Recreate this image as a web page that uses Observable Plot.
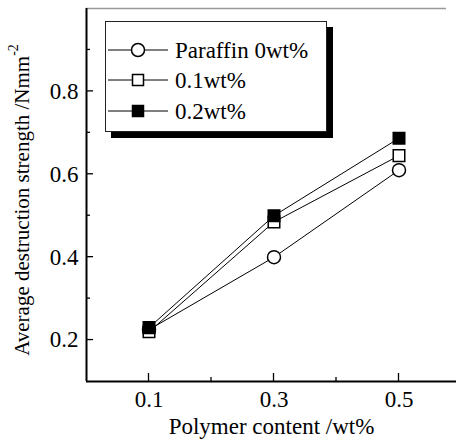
<!DOCTYPE html>
<html>
<head>
<meta charset="utf-8">
<script src="https://cdn.jsdelivr.net/npm/d3@7"></script>
<script src="https://cdn.jsdelivr.net/npm/@observablehq/plot@0.6"></script>
</head>
<body style="margin:0;padding:0;background:#fff;font-family:Liberation Serif">
<div id="chart"></div>
<script>
const polymer = [0.1, 0.3, 0.5];
const seriesNames = ["Paraffin 0wt%", "0.1wt%", "0.2wt%"];
const paraffin0 = [0.225, 0.400, 0.610];
const paraffin01 = [0.220, 0.485, 0.645];
const paraffin02 = [0.230, 0.500, 0.687];
const xMajorTicks = [0.1, 0.3, 0.5];
const xMinorTicks = [0.2, 0.4];
const yMajorTicks = [0.2, 0.4, 0.6, 0.8];
const yMinorTicks = [0.3, 0.5, 0.7, 0.9];

const seriesValues = [paraffin0, paraffin01, paraffin02];
const data = [];
seriesNames.forEach((s, i) => polymer.forEach((p, j) => data.push({series: s, x: p, y: seriesValues[i][j]})));

const symbolMap = {"Paraffin 0wt%": "circle", "0.1wt%": "square", "0.2wt%": "square"};
const fillMap = {"Paraffin 0wt%": "white", "0.1wt%": "white", "0.2wt%": "black"};

const FONT = "Liberation Serif";

const chart = Plot.plot({
  width: 456,
  height: 442,
  marginLeft: 86,
  marginRight: 0,
  marginTop: 8,
  marginBottom: 61,
  style: {fontFamily: FONT, fontSize: "23px", color: "black", background: "white", display: "block"},
  x: {domain: [0, 0.592]},
  y: {domain: [0.1, 1.0]},
  marks: [
    Plot.ruleY([1.0], {x1: 0, x2: 0.576, stroke: "#999", strokeWidth: 1.5}),
    Plot.ruleX([0], {y1: 0.1, y2: 1.0, stroke: "black", strokeWidth: 2}),
    Plot.ruleY([0.1], {x1: 0, x2: 0.592, stroke: "black", strokeWidth: 2}),
    Plot.axisX(xMajorTicks, {tickSize: 0, tickPadding: 9, tickFormat: d => d.toFixed(1), label: null, fontSize: 23}),
    Plot.axisY(yMajorTicks, {tickSize: 0, tickPadding: 8, tickFormat: d => d.toFixed(1), label: null, fontSize: 23}),
    Plot.text(["Polymer content /wt%"], {frameAnchor: "bottom", dy: 52, text: d => d, fontSize: 23}),
    Plot.line(data, {x: "x", y: "y", z: "series", stroke: "black", strokeWidth: 1}),
    Plot.dot(data, {x: "x", y: "y", symbol: d => symbolMap[d.series], fill: d => fillMap[d.series], stroke: "black", strokeWidth: 1.5, r: 6.5})
  ]
});

document.getElementById("chart").appendChild(chart);

const svg = d3.select(chart);
svg.attr("font-family", FONT);
const sx = chart.scale("x"), sy = chart.scale("y");
const x0 = sx.apply(0), y0 = sy.apply(0.1);

// inward ticks
const tg = svg.append("g").attr("stroke", "black").attr("stroke-width", 1.3);
xMajorTicks.forEach(v => tg.append("line").attr("x1", sx.apply(v)).attr("x2", sx.apply(v)).attr("y1", y0).attr("y2", y0 - 8));
xMinorTicks.forEach(v => tg.append("line").attr("x1", sx.apply(v)).attr("x2", sx.apply(v)).attr("y1", y0).attr("y2", y0 - 4));
yMajorTicks.forEach(v => tg.append("line").attr("y1", sy.apply(v)).attr("y2", sy.apply(v)).attr("x1", x0).attr("x2", x0 + 7));
yMinorTicks.forEach(v => tg.append("line").attr("y1", sy.apply(v)).attr("y2", sy.apply(v)).attr("x1", x0).attr("x2", x0 + 4));

// Y axis title with superscript
const yt = svg.append("text")
  .attr("transform", "translate(29,200) rotate(-90)")
  .attr("text-anchor", "middle")
  .attr("font-size", 21)
  .attr("fill", "black");
yt.append("tspan").text("Average destruction strength /Nmm");
yt.append("tspan").attr("font-size", 14).attr("dy", -11).text("-2");

// Legend
const lg = svg.append("g");
lg.append("rect").attr("x", 111).attr("y", 27).attr("width", 222).attr("height", 111).attr("fill", "black");
lg.append("rect").attr("x", 105.5).attr("y", 21.5).attr("width", 221).attr("height", 110).attr("fill", "white").attr("stroke", "#222").attr("stroke-width", 1);
const rowY = [50, 80, 111];
seriesNames.forEach((s, i) => {
  const y = rowY[i];
  lg.append("line").attr("x1", 108).attr("x2", 168).attr("y1", y).attr("y2", y).attr("stroke", "black").attr("stroke-width", 1);
  const sym = d3.symbol(symbolMap[s] === "circle" ? d3.symbolCircle : d3.symbolSquare, symbolMap[s] === "circle" ? Math.PI * 6.5 * 6.5 : 121);
  lg.append("path").attr("d", sym()).attr("transform", `translate(138,${y})`).attr("fill", fillMap[s]).attr("stroke", "black").attr("stroke-width", 1.5);
  lg.append("text").attr("x", 175).attr("y", y + 8).attr("text-anchor", "start").attr("font-size", 23).attr("fill", "black").text(s);
});

svg.selectAll("text, tspan").attr("font-family", FONT).style("font-family", FONT);
</script>
</body>
</html>
